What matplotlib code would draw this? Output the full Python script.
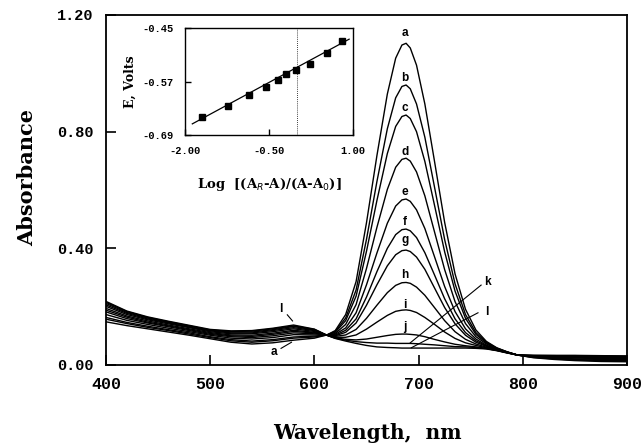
# Absorption spectra (curves a-l) with Nernst plot inset

import matplotlib
matplotlib.use("Agg")
import matplotlib.pyplot as plt

plt.rcParams['axes.unicode_minus'] = False

wavelength = [400, 420, 440, 460, 480, 500, 520, 540, 560, 580, 600, 612,
              620, 630, 640, 650, 660, 670, 678, 684, 688, 692, 698, 706,
              715, 725, 735, 745, 755, 765, 775, 785, 795, 810, 830, 850,
              875, 900]

absorb_a = [0.148, 0.135, 0.124, 0.113, 0.102, 0.090, 0.078, 0.072, 0.076, 0.085, 0.092, 0.103,
            0.118, 0.173, 0.286, 0.488, 0.718, 0.929, 1.052, 1.097, 1.103, 1.087, 1.028, 0.895,
            0.704, 0.489, 0.312, 0.191, 0.120, 0.081, 0.059, 0.045, 0.034, 0.025, 0.019, 0.015,
            0.012, 0.011]
absorb_b = [0.157, 0.142, 0.129, 0.118, 0.106, 0.094, 0.083, 0.078, 0.083, 0.092, 0.096, 0.103,
            0.115, 0.161, 0.257, 0.431, 0.629, 0.810, 0.916, 0.955, 0.960, 0.947, 0.895, 0.781,
            0.615, 0.430, 0.278, 0.173, 0.111, 0.078, 0.058, 0.045, 0.034, 0.026, 0.021, 0.017,
            0.015, 0.014]
absorb_c = [0.163, 0.146, 0.133, 0.121, 0.110, 0.097, 0.087, 0.082, 0.087, 0.096, 0.099, 0.103,
            0.112, 0.152, 0.236, 0.390, 0.564, 0.725, 0.818, 0.852, 0.857, 0.845, 0.800, 0.698,
            0.552, 0.388, 0.253, 0.160, 0.105, 0.075, 0.057, 0.044, 0.034, 0.027, 0.022, 0.019,
            0.016, 0.015]
absorb_d = [0.173, 0.153, 0.139, 0.126, 0.114, 0.102, 0.092, 0.089, 0.094, 0.104, 0.103, 0.103,
            0.108, 0.139, 0.207, 0.331, 0.472, 0.602, 0.678, 0.705, 0.709, 0.699, 0.662, 0.580,
            0.460, 0.327, 0.217, 0.142, 0.097, 0.072, 0.056, 0.044, 0.034, 0.028, 0.024, 0.021,
            0.019, 0.018]
absorb_e = [0.182, 0.159, 0.144, 0.131, 0.118, 0.105, 0.097, 0.094, 0.100, 0.110, 0.107, 0.103,
            0.105, 0.127, 0.179, 0.275, 0.384, 0.486, 0.545, 0.566, 0.569, 0.561, 0.532, 0.468,
            0.374, 0.269, 0.183, 0.124, 0.089, 0.068, 0.055, 0.044, 0.034, 0.029, 0.026, 0.024,
            0.022, 0.021]
absorb_f = [0.188, 0.164, 0.147, 0.134, 0.121, 0.108, 0.100, 0.098, 0.105, 0.115, 0.110, 0.102,
            0.102, 0.119, 0.158, 0.233, 0.320, 0.400, 0.447, 0.464, 0.466, 0.460, 0.437, 0.385,
            0.311, 0.227, 0.158, 0.111, 0.083, 0.066, 0.054, 0.043, 0.034, 0.030, 0.027, 0.025,
            0.023, 0.022]
absorb_g = [0.194, 0.168, 0.151, 0.137, 0.124, 0.111, 0.103, 0.102, 0.109, 0.119, 0.112, 0.102,
            0.100, 0.112, 0.144, 0.205, 0.275, 0.340, 0.378, 0.392, 0.394, 0.389, 0.370, 0.328,
            0.266, 0.197, 0.141, 0.102, 0.078, 0.064, 0.053, 0.043, 0.034, 0.030, 0.028, 0.027,
            0.025, 0.024]
absorb_h = [0.201, 0.173, 0.155, 0.141, 0.128, 0.114, 0.107, 0.107, 0.114, 0.124, 0.115, 0.102,
            0.098, 0.103, 0.122, 0.160, 0.205, 0.248, 0.273, 0.282, 0.283, 0.280, 0.267, 0.239,
            0.198, 0.152, 0.114, 0.088, 0.072, 0.061, 0.052, 0.043, 0.034, 0.031, 0.030, 0.029,
            0.027, 0.026]
absorb_i = [0.206, 0.177, 0.158, 0.144, 0.130, 0.117, 0.110, 0.110, 0.118, 0.128, 0.118, 0.102,
            0.095, 0.095, 0.103, 0.123, 0.147, 0.170, 0.184, 0.188, 0.189, 0.187, 0.180, 0.163,
            0.140, 0.113, 0.091, 0.076, 0.067, 0.059, 0.051, 0.042, 0.034, 0.032, 0.031, 0.030,
            0.029, 0.028]
absorb_j = [0.211, 0.180, 0.161, 0.146, 0.133, 0.119, 0.113, 0.113, 0.121, 0.132, 0.120, 0.102,
            0.093, 0.088, 0.086, 0.089, 0.095, 0.101, 0.105, 0.106, 0.106, 0.105, 0.103, 0.097,
            0.088, 0.079, 0.071, 0.066, 0.062, 0.057, 0.050, 0.042, 0.034, 0.032, 0.032, 0.031,
            0.030, 0.029]
absorb_k = [0.215, 0.183, 0.163, 0.148, 0.134, 0.120, 0.115, 0.116, 0.124, 0.134, 0.122, 0.102,
            0.092, 0.085, 0.080, 0.077, 0.075, 0.075, 0.074, 0.074, 0.074, 0.074, 0.073, 0.071,
            0.069, 0.066, 0.063, 0.062, 0.060, 0.056, 0.050, 0.042, 0.034, 0.033, 0.032, 0.032,
            0.031, 0.030]
absorb_l = [0.218, 0.185, 0.165, 0.150, 0.136, 0.122, 0.117, 0.118, 0.126, 0.137, 0.123, 0.102,
            0.091, 0.082, 0.074, 0.067, 0.062, 0.060, 0.059, 0.058, 0.058, 0.058, 0.058, 0.058,
            0.058, 0.058, 0.058, 0.058, 0.057, 0.055, 0.049, 0.041, 0.034, 0.033, 0.033, 0.033,
            0.032, 0.031]

curve_names = ['a', 'b', 'c', 'd', 'e', 'f', 'g', 'h', 'i', 'j', 'k', 'l']

# inset: E vs log ratio
log_ratio = [-1.70, -1.24, -0.85, -0.56, -0.34, -0.19, -0.02, 0.23, 0.53, 0.81]
potential = [-0.650, -0.625, -0.601, -0.583, -0.566, -0.553, -0.544, -0.530, -0.505, -0.478]
fit_x = [-1.87, 0.93]
fit_y = [-0.665, -0.475]

TICK_FONT = dict(family='Liberation Mono', weight='bold')
LABEL_FONT = dict(family='DejaVu Serif', weight='bold')


def main():
    spectra = [absorb_a, absorb_b, absorb_c, absorb_d, absorb_e, absorb_f,
               absorb_g, absorb_h, absorb_i, absorb_j, absorb_k, absorb_l]

    fig = plt.figure(figsize=(6.44, 4.45), dpi=100)
    ax = fig.add_axes([0.1646, 0.1798, 0.809, 0.7865])

    for spec in spectra:
        ax.plot(wavelength, spec, color='black', lw=1.0)

    ax.set_xlim(400, 900)
    ax.set_ylim(0, 1.2)
    ax.set_xticks([400, 500, 600, 700, 800, 900])
    ax.set_yticks([0.0, 0.4, 0.8, 1.2])
    ax.set_yticklabels(['0.00', '0.40', '0.80', '1.20'], fontsize=11, **TICK_FONT)
    ax.set_xticklabels(['400', '500', '600', '700', '800', '900'], fontsize=12, **TICK_FONT)
    ax.tick_params(direction='in', length=7, width=1.2, pad=9)
    for sp in ax.spines.values():
        sp.set_linewidth(1.3)

    # curve labels at the 688 nm band
    peak_labels = {'a': 1.138, 'b': 0.984, 'c': 0.881, 'd': 0.730, 'e': 0.593,
                   'f': 0.490, 'g': 0.429, 'h': 0.309, 'i': 0.206, 'j': 0.131}
    for name, yy in peak_labels.items():
        ax.text(687, yy, name, ha='center', va='center', fontsize=8.5,
                family='Liberation Sans', weight='bold')
    ax.text(766, 0.286, 'k', ha='center', va='center', fontsize=8.5,
            family='Liberation Sans', weight='bold')
    ax.plot([760, 692], [0.274, 0.076], color='black', lw=0.8)
    ax.text(765, 0.181, 'l', ha='center', va='center', fontsize=8.5,
            family='Liberation Sans', weight='bold')
    ax.plot([757, 693], [0.179, 0.059], color='black', lw=0.8)
    ax.text(568, 0.193, 'l', ha='center', va='center', fontsize=8.5,
            family='Liberation Sans', weight='bold')
    ax.plot([574, 579], [0.172, 0.151], color='black', lw=0.8)
    ax.text(561, 0.046, 'a', ha='center', va='center', fontsize=8.5,
            family='Liberation Sans', weight='bold')
    ax.plot([568, 578], [0.057, 0.078], color='black', lw=0.8)

    fig.text(27 / 644, 1 - 178 / 445, 'Absorbance', rotation=90, ha='center',
             va='center', fontsize=15, **LABEL_FONT)
    fig.text(367 / 644, 1 - 433 / 445, 'Wavelength,  nm', ha='center',
             va='center', fontsize=14.5, **LABEL_FONT)

    # inset
    ins = fig.add_axes([0.2873, 0.6966, 0.2609, 0.2404])
    ins.plot(fit_x, fit_y, color='black', lw=0.9)
    ins.plot(log_ratio, potential, 's', color='black', ms=4)
    ins.axvline(0, color='black', lw=0.6, ls=(0, (1, 1.5)))
    ins.set_xlim(-2.0, 1.0)
    ins.set_ylim(-0.69, -0.45)
    ins.set_xticks([-2.0, -0.5, 1.0])
    ins.set_xticklabels(['-2.00', '-0.50', '1.00'], fontsize=7.5, **TICK_FONT)
    ins.set_yticks([-0.69, -0.57, -0.45])
    ins.set_yticklabels(['-0.69', '-0.57', '-0.45'], fontsize=7.5, **TICK_FONT)
    ins.tick_params(direction='in', length=4, width=1, pad=8)
    for sp in ins.spines.values():
        sp.set_linewidth(1.0)
    ins.set_ylabel('E, Volts', fontsize=9, labelpad=4, **LABEL_FONT)
    ins.set_xlabel(r'Log  [(A$_R$-A)/(A-A$_0$)]', fontsize=9.5, labelpad=14, **LABEL_FONT)

    fig.savefig('out.png', dpi=100)


if __name__ == '__main__':
    main()
